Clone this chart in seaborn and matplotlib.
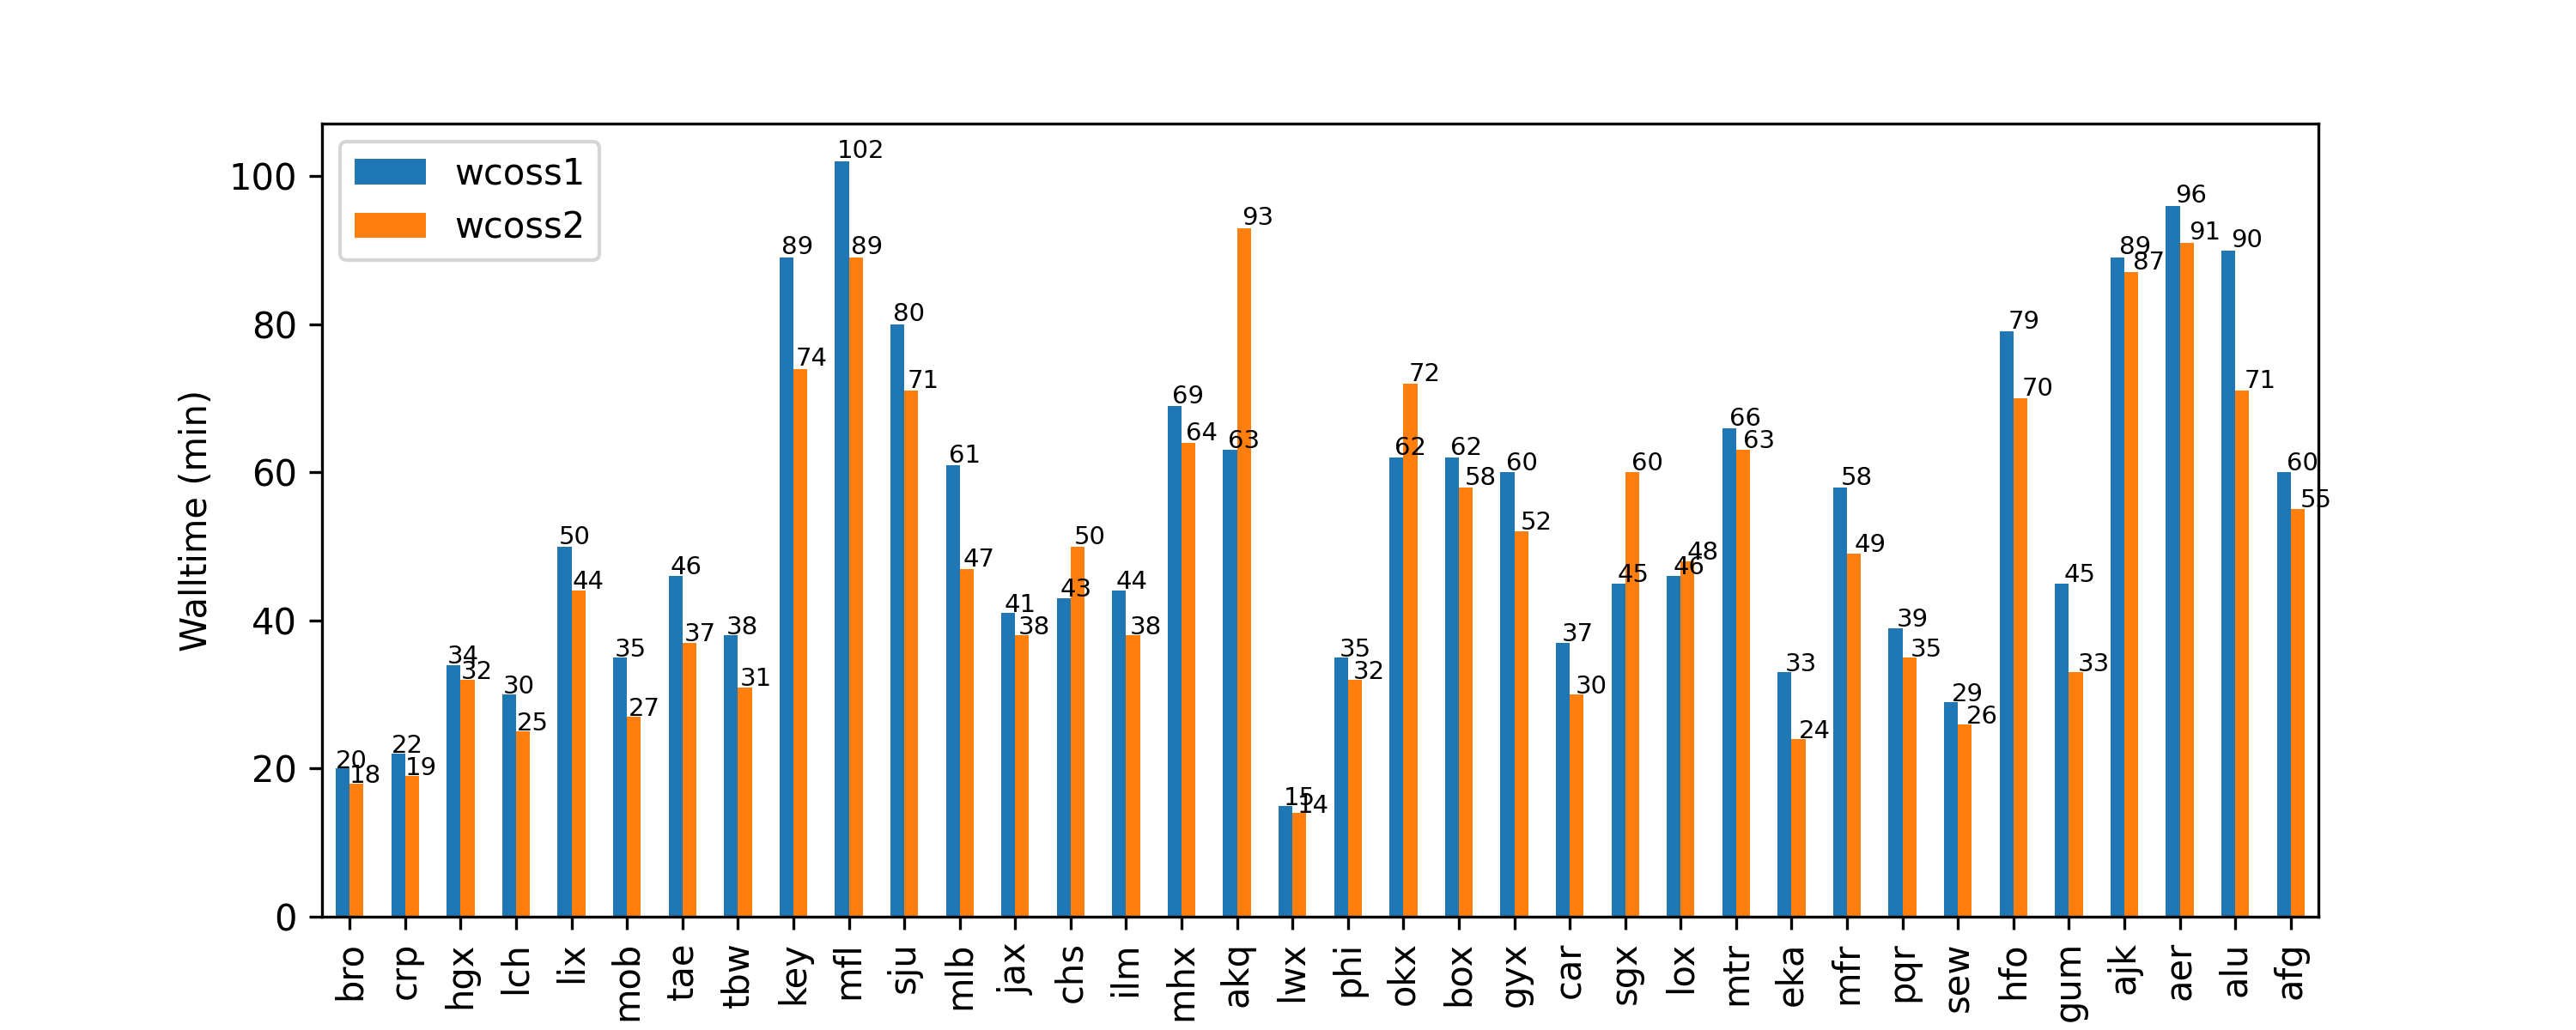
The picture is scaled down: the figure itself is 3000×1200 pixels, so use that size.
import matplotlib
matplotlib.use("Agg")
import matplotlib.pyplot as plt
import seaborn as sns
import pandas as pd

sites = ["bro", "crp", "hgx", "lch", "lix", "mob", "tae", "tbw", "key", "mfl", "sju", "mlb",
         "jax", "chs", "ilm", "mhx", "akq", "lwx", "phi", "okx", "box", "gyx", "car", "sgx",
         "lox", "mtr", "eka", "mfr", "pqr", "sew", "hfo", "gum", "ajk", "aer", "alu", "afg"]
wcoss1 = [20, 22, 34, 30, 50, 35, 46, 38, 89, 102, 80, 61, 41, 43, 44, 69, 63, 15, 35, 62,
          62, 60, 37, 45, 46, 66, 33, 58, 39, 29, 79, 45, 89, 96, 90, 60]
wcoss2 = [18, 19, 32, 25, 44, 27, 37, 31, 74, 89, 71, 47, 38, 50, 38, 64, 93, 14, 32, 72,
          58, 52, 30, 60, 48, 63, 24, 49, 35, 26, 70, 33, 87, 91, 71, 55]
series_names = ["wcoss1", "wcoss2"]
colors = ["#1f77b4", "#ff7f0e"]

df = pd.DataFrame({
    "site": sites * 2,
    "machine": [series_names[0]] * len(sites) + [series_names[1]] * len(sites),
    "walltime": wcoss1 + wcoss2,
})

fig, ax = plt.subplots(figsize=(10, 4), dpi=300)
sns.barplot(data=df, x="site", y="walltime", hue="machine", order=sites,
            hue_order=series_names, palette=colors, width=0.5, gap=0,
            saturation=1, linewidth=0, errorbar=None, ax=ax)

for container in ax.containers:
    for p in container:
        h = p.get_height()
        ax.annotate(str(int(round(h))), (p.get_x() * 1.005, h * 1.005), fontsize=7)

ax.set_xlabel("")
ax.set_ylabel("Walltime (min)")
ax.tick_params(axis="x", labelrotation=90)
ax.set_xlim(-0.5, len(sites) - 0.5)
sns.move_legend(ax, "upper left", title=None)

fig.savefig("out.png", dpi=300)
